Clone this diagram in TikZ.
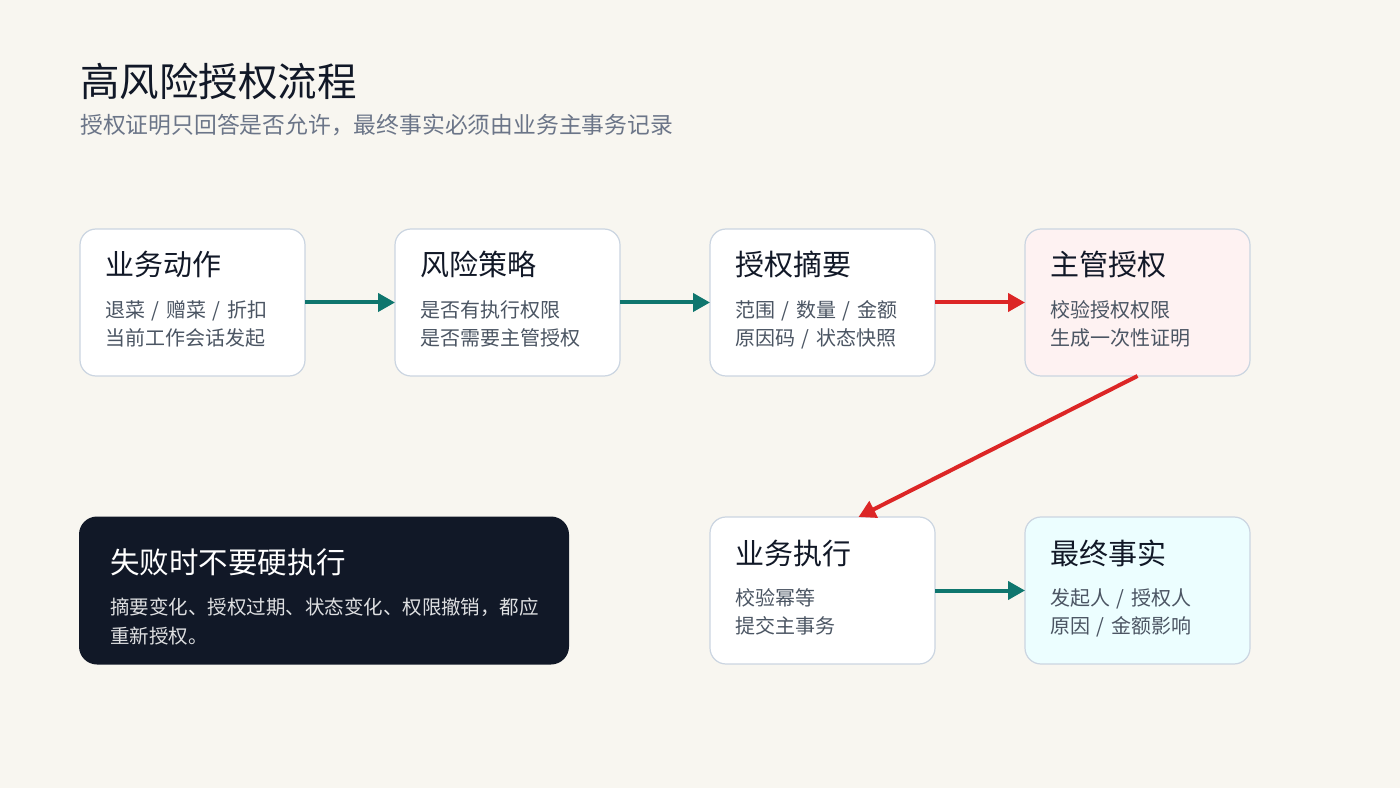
\documentclass[tikz,border=0pt]{standalone}
\usepackage{fontspec}
\setmainfont{Noto Sans CJK SC}
\usetikzlibrary{positioning,arrows.meta}

\definecolor{paper}{HTML}{F8F6F0}
\definecolor{ink}{HTML}{111827}
\definecolor{muted}{HTML}{4B5563}
\definecolor{slate}{HTML}{6B7588}
\definecolor{edge}{HTML}{CBD5E1}
\definecolor{flowteal}{HTML}{0F766E}
\definecolor{alarm}{HTML}{DC2626}
\definecolor{blush}{HTML}{FEF2F2}
\definecolor{mint}{HTML}{ECFEFF}
\definecolor{night}{HTML}{111827}

\newcommand\cardhead[1]{{\fontsize{29}{29}\selectfont\color{ink}#1}}
\newcommand\cardfont{\fontsize{20}{28}\selectfont\spaceskip=3pt\relax}

\begin{document}
\begin{tikzpicture}[x=1pt,y=1pt]
    \tikzset{card/.style={
        draw=edge, line width=1.2pt, fill=white, rounded corners=16pt,
        minimum width=225pt, minimum height=147pt, text width=175pt,
        inner xsep=25pt, inner ysep=0pt, outer sep=0pt, align=left, text=muted,
        text height=25pt, text depth=78pt,
        font=\cardfont
      },
      warncard/.style={card, draw=none, fill=night, rounded corners=18pt,
        minimum width=490pt, minimum height=148pt, text width=428pt,
        inner xsep=31pt, text=white!86!night,
        text height=26pt, text depth=61pt,
        font=\fontsize{19.5}{29}\selectfont
      },
      flow/.style={-{Triangle[length=17pt,width=18pt]}, line width=4pt, draw=flowteal},
      hot/.style={flow, draw=alarm}
    }

    \fill[paper] (0,0) rectangle (1400,788);

    \node[anchor=base west, inner sep=0pt, text=ink, font=\fontsize{39.5}{39.5}\selectfont] (title) at (80,691) {高风险授权流程};
    \node[anchor=base west, inner sep=0pt, text=slate, font=\fontsize{22.8}{22.8}\selectfont] (subtitle) at ([yshift=-37pt]title.base west) {授权证明只回答是否允许，最终事实必须由业务主事务记录};

    \node[card] (act) at (192.5,485.5) {\cardhead{业务动作}\\[13.6pt]退菜 / 赠菜 / 折扣\\当前工作会话发起};
    \node[card, right=90pt of act] (policy) {\cardhead{风险策略}\\[13.6pt]是否有执行权限\\是否需要主管授权};
    \node[card, right=90pt of policy] (digest) {\cardhead{授权摘要}\\[13.6pt]范围 / 数量 / 金额\\原因码 / 状态快照};
    \node[card, right=90pt of digest, fill=blush] (grant) {\cardhead{主管授权}\\[13.6pt]校验授权权限\\生成一次性证明};

    \node[card, below=141pt of digest] (exec) {\cardhead{业务执行}\\[13.6pt]校验幂等\\提交主事务};
    \node[card, right=90pt of exec, fill=mint] (fact) {\cardhead{最终事实}\\[13.6pt]发起人 / 授权人\\原因 / 金额影响};

    \node[warncard, left=141pt of exec] (warn) {{\fontsize{29.5}{29.5}\selectfont\color{white}失败时不要硬执行}\\[12pt]摘要变化、授权过期、状态变化、权限撤销，都应\\重新授权。};

    \draw[flow] (act) -- (policy);
    \draw[flow] (policy) -- (digest);
    \draw[hot] (digest) -- (grant);
    \draw[hot] (grant.south) -- ([xshift=36pt]exec.north);
    \draw[flow] (exec) -- (fact);
\end{tikzpicture}
\end{document}
